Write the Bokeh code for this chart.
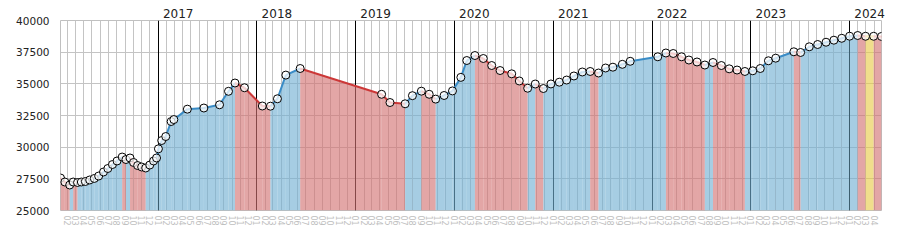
import pandas as pd
from bokeh.plotting import figure
from bokeh.models import (Range1d, SingleIntervalTicker, MonthsTicker, YearsTicker, FixedTicker,
                          DatetimeTickFormatter, DatetimeAxis, Grid)
from bokeh.embed import file_html
from bokeh.resources import INLINE

DATES = [
    "2016-01-06", "2016-01-22", "2016-02-09", "2016-02-22", "2016-03-09", "2016-03-23",
    "2016-04-07", "2016-04-23", "2016-05-10", "2016-05-26", "2016-06-13", "2016-06-29",
    "2016-07-16", "2016-08-02", "2016-08-21", "2016-09-04", "2016-09-19", "2016-10-02",
    "2016-10-17", "2016-11-01", "2016-11-16", "2016-12-01", "2016-12-15", "2016-12-26",
    "2017-01-02", "2017-01-14", "2017-01-29", "2017-02-18", "2017-02-28", "2017-04-19",
    "2017-06-19", "2017-08-16", "2017-09-18", "2017-10-12", "2017-11-16",
    "2018-01-21", "2018-02-20", "2018-03-18", "2018-04-18", "2018-06-10",
    "2019-04-07", "2019-05-08", "2019-07-03", "2019-07-30", "2019-09-01", "2019-09-30",
    "2019-10-24", "2019-11-24", "2019-12-25",
    "2020-01-25", "2020-02-16", "2020-03-17", "2020-04-17", "2020-05-18", "2020-06-18",
    "2020-07-31", "2020-08-28", "2020-09-28", "2020-10-26", "2020-11-25", "2020-12-23",
    "2021-01-23", "2021-02-19", "2021-03-18", "2021-04-18", "2021-05-17", "2021-06-17",
    "2021-07-13", "2021-08-09", "2021-09-13", "2021-10-12",
    "2022-01-22", "2022-02-21", "2022-03-20", "2022-04-20", "2022-05-17", "2022-06-16",
    "2022-07-15", "2022-08-14", "2022-09-14", "2022-10-13", "2022-11-11", "2022-12-10",
    "2023-01-08", "2023-02-05", "2023-03-07", "2023-04-03", "2023-06-09", "2023-07-04",
    "2023-08-05", "2023-09-05", "2023-10-06", "2023-11-04", "2023-12-03",
    "2024-01-01", "2024-01-31", "2024-02-29", "2024-03-30", "2024-04-28",
]
VALUES = [
    27565, 27250, 27013, 27250, 27210, 27250,
    27290, 27410, 27530, 27720, 28040, 28315,
    28630, 28910, 29220, 29025, 29145, 28790,
    28550, 28435, 28355, 28590, 28910, 29145,
    29870, 30525, 30840, 32025, 32180, 33000,
    33090, 33345, 34410, 35065, 34690,
    33250, 33235, 33820, 35690, 36210,
    34175, 33525, 33425, 34065, 34420, 34175,
    33795, 34080, 34440,
    35510, 36840, 37235, 37000, 36445, 36050,
    35790, 35225, 34655, 34985, 34630, 34990,
    35130, 35300, 35620, 35935, 35975, 35855,
    36250, 36315, 36540, 36780,
    37135, 37435, 37395, 37135, 36880, 36725,
    36485, 36685, 36445, 36185, 36090, 35975,
    36030, 36210, 36820, 37025, 37530, 37475,
    37925, 38105, 38285, 38445, 38595,
    38760, 38815, 38755, 38755, 38740,
]
YEARS = [2017, 2018, 2019, 2020, 2021, 2022, 2023, 2024]
Y_MIN, Y_MAX, Y_STEP = 25000, 40000, 2500

UP_FILL, DOWN_FILL, FLAT_FILL = "#72b0d3", "#d27272", "#e8cb49"
UP_LINE, DOWN_LINE, FLAT_LINE = "#3a8cc6", "#cc3838", "#e2b010"

t = pd.to_datetime(DATES)
xms = [ts.value / 1e6 for ts in t]

xs, ys, fills, lines, x0s, x1s, y0s, y1s = [], [], [], [], [], [], [], []
for i in range(len(xms) - 1):
    a, b = VALUES[i], VALUES[i + 1]
    if b > a:
        f, l = UP_FILL, UP_LINE
    elif b < a:
        f, l = DOWN_FILL, DOWN_LINE
    else:
        f, l = FLAT_FILL, FLAT_LINE
    xs.append([xms[i], xms[i], xms[i + 1], xms[i + 1]])
    ys.append([Y_MIN, a, b, Y_MIN])
    fills.append(f)
    lines.append(l)
    x0s.append(xms[i]); x1s.append(xms[i + 1]); y0s.append(a); y1s.append(b)

p = figure(width=900, height=250, x_axis_type="datetime", output_backend="svg",
           toolbar_location=None, min_border_left=60, min_border_right=19,
           min_border_top=20, min_border_bottom=40,
           x_range=Range1d(xms[0], xms[-1]), y_range=Range1d(Y_MIN, Y_MAX))
p.background_fill_color = "white"
p.border_fill_color = "white"
p.outline_line_color = "#c0c0c0"
p.outline_line_width = 1

# grids
p.xgrid.ticker = MonthsTicker(months=list(range(12)))
p.xgrid.grid_line_color = "#c4c4c4"
p.ygrid.ticker = SingleIntervalTicker(interval=Y_STEP)
p.ygrid.grid_line_color = "#c4c4c4"
p.add_layout(Grid(dimension=0, ticker=YearsTicker(), grid_line_color="black",
                  grid_line_width=1))

# areas
p.patches(xs=xs, ys=ys, fill_color=fills, fill_alpha=0.63, line_color=None)
# line segments
p.segment(x0=x0s, y0=y0s, x1=x1s, y1=y1s, line_color=lines, line_width=2)
# markers
p.scatter(x=xms, y=VALUES, size=8, marker="circle", fill_color="white",
          fill_alpha=0.75, line_color="black", line_width=1)

# axes
p.yaxis.ticker = SingleIntervalTicker(interval=Y_STEP)
p.yaxis.axis_line_color = None
p.yaxis.major_tick_line_color = None
p.yaxis.minor_tick_line_color = None
p.yaxis.major_tick_out = 0
p.yaxis.major_tick_in = 0
p.yaxis.major_label_text_font = "DejaVu Sans"
p.yaxis.major_label_text_font_size = "10.5px"
p.yaxis.major_label_text_color = "#222222"
p.yaxis.major_label_standoff = 7

p.xaxis.ticker = MonthsTicker(months=list(range(12)))
p.xaxis.formatter = DatetimeTickFormatter(months="%m", years="%m", days="%m")
p.xaxis.axis_line_color = None
p.xaxis.major_tick_line_color = None
p.xaxis.minor_tick_line_color = None
p.xaxis.major_tick_out = 0
p.xaxis.major_tick_in = 0
p.xaxis.major_label_orientation = "vertical"
p.xaxis.major_label_text_font = "DejaVu Sans"
p.xaxis.major_label_text_font_size = "8px"
p.xaxis.major_label_text_color = "#c0c0c0"
p.xaxis.major_label_standoff = 5

# year labels on top: centred a little to the right of each year line
ms_per_px = (xms[-1] - xms[0]) / 821.0
year_ticks = [pd.Timestamp(f"{yr}-01-01").value / 1e6 + 20 * ms_per_px for yr in YEARS]
top = DatetimeAxis(ticker=FixedTicker(ticks=year_ticks),
                   formatter=DatetimeTickFormatter(years="%Y", months="%Y", days="%Y",
                                                   hours="%Y", minutes="%Y"),
                   axis_line_color=None, major_tick_line_color=None,
                   minor_tick_line_color=None, major_tick_out=0, major_tick_in=0,
                   major_label_standoff=3,
                   major_label_text_font="DejaVu Sans",
                   major_label_text_font_size="12px",
                   major_label_text_color="#222222")
p.add_layout(top, "above")

open("out.html", "w").write(file_html(p, INLINE))
